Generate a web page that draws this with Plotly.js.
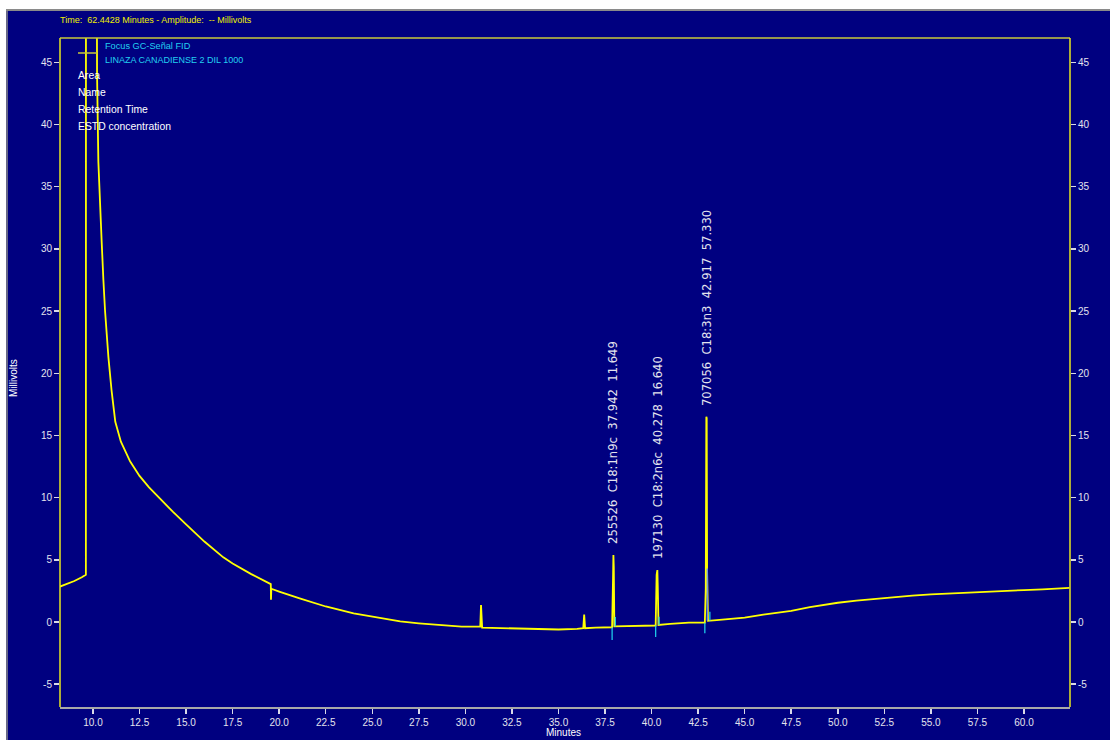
<!DOCTYPE html>
<html>
<head>
<meta charset="utf-8">
<script src="https://cdn.plot.ly/plotly-3.0.1.min.js"></script>
<style>
html,body{margin:0;padding:0;background:#000080;}
#chart{width:1110px;height:740px;}
</style>
</head>
<body>
<div id="chart"></div>
<script>
// ---- Data ----
const timeMin = [8.23, 8.6, 9.0, 9.4, 9.62, 9.63, 9.64, 10.17, 10.19, 10.22, 10.29, 10.38, 10.47, 10.56, 10.65, 10.83, 11.0, 11.2, 11.5, 12.0, 12.5, 13.0, 13.66, 14.3, 15.0, 16.0, 17.0, 17.5, 18.5, 19.43, 19.55, 19.56, 19.58, 19.62, 19.69, 20.0, 21.1, 22.5, 24.0, 25.0, 26.5, 27.5, 28.7, 29.8, 30.8, 30.84, 30.9, 32.0, 33.0, 34.0, 35.0, 36.0, 36.33, 36.38, 36.43, 37.0, 37.88, 37.93, 37.95, 37.97, 38.0, 38.5, 39.3, 40.22, 40.27, 40.31, 40.33, 40.37, 41.0, 42.0, 42.86, 42.91, 42.94, 42.96, 42.98, 43.03, 43.5, 44.0, 45.0, 46.0, 47.5, 48.5, 50.0, 51.0, 52.5, 54.0, 55.0, 56.0, 57.5, 59.0, 60.0, 61.0, 62.0, 62.44];
const millivolts = [2.85, 3.05, 3.3, 3.6, 3.8, 120, 120, 120, 60, 44, 37, 33, 30.5, 27.5, 25, 21.3, 18.6, 16.1, 14.5, 12.9, 11.75, 10.85, 9.8, 8.85, 7.85, 6.45, 5.2, 4.7, 3.85, 3.2, 3.05, 1.8, 2.7, 2.65, 2.62, 2.45, 1.9, 1.25, 0.7, 0.45, 0.05, -0.1, -0.25, -0.37, -0.37, 1.37, -0.45, -0.5, -0.55, -0.6, -0.6, -0.55, -0.5, 0.6, -0.5, -0.45, -0.42, 3.5, 5.39, 4.4, -0.35, -0.33, -0.3, -0.28, 3.8, 4.18, 3.0, -0.24, -0.15, -0.05, -0.05, 2.7, 16.5, 16.4, 4.2, 0.1, 0.15, 0.2, 0.35, 0.6, 0.9, 1.2, 1.55, 1.72, 1.95, 2.12, 2.22, 2.3, 2.42, 2.52, 2.57, 2.63, 2.7, 2.75];

// integration baseline markers (cyan)
const markX = [37.88, 37.88, null, 38.05, 38.05, null, 40.22, 40.22, null, 40.4, 40.4, null, 42.86, 42.86, null, 43.13, 43.13];
const markY = [-1.45, -0.42, null, -0.35, 0.4, null, -1.2, -0.28, null, -0.24, 0.43, null, -0.9, -0.05, null, 0.1, 0.83];
const innerX = [42.99, 42.99];
const innerY = [0.1, 4.3];

// identified peaks
const peakTimes = [37.95, 40.31, 42.94];
const peakHeights = [5.39, 4.18, 16.5];
const peakAreas = ["255526", "197130", "707056"];
const peakNames = ["C18:1n9c", "C18:2n6c", "C18:3n3"];
const peakRT = ["37.942", "40.278", "42.917"];
const peakConc = ["11.649", "16.640", "57.330"];

const xRange = [8.23, 62.47];
const yRange = [-6.83, 46.95];
const yTicks = [-5, 0, 5, 10, 15, 20, 25, 30, 35, 40, 45];

// ---- helpers for pixel placement of decorations ----
const W = 1110, H = 740, L = 60, R = 40, T = 38, B = 33;
const pw = W - L - R, ph = H - T - B;
const px = v => (v - L) / pw;
const py = v => (H - B - v) / ph;

const NAVY = '#000080';
const TXT = '#E4E4EE';
const nb = '\u00A0\u00A0';
const FONT = 'Liberation Sans, Arial';

const traces = [
  {x: timeMin, y: millivolts, type: 'scatter', mode: 'lines',
   line: {color: '#FFFF00', width: 1.8}, hoverinfo: 'skip', showlegend: false},
  {x: markX, y: markY, type: 'scatter', mode: 'lines', connectgaps: false,
   line: {color: '#20D8F0', width: 1.2}, hoverinfo: 'skip', showlegend: false},
  {x: innerX, y: innerY, type: 'scatter', mode: 'lines',
   line: {color: '#5C8CFF', width: 1.2}, hoverinfo: 'skip', showlegend: false},
  {x: [xRange[0]], y: [null], yaxis: 'y2', type: 'scatter', mode: 'lines', showlegend: false, hoverinfo: 'skip'}
];

const annotations = [];
peakTimes.forEach((t, i) => {
  annotations.push({
    x: t, y: peakHeights[i], xref: 'x', yref: 'y',
    text: peakAreas[i] + nb + peakNames[i] + nb + peakRT[i] + nb + peakConc[i],
    showarrow: false, textangle: -90, yanchor: 'bottom', xanchor: 'center', yshift: 9,
    font: {family: 'DejaVu Sans', size: 11.6, color: TXT}
  });
});
// title line
annotations.push({x: px(58), y: py(20), xref: 'paper', yref: 'paper', xanchor: 'left', yanchor: 'middle',
  text: 'Time:' + nb + '62.4428 Minutes - Amplitude:' + nb + '-- Millivolts', showarrow: false,
  font: {family: FONT, size: 9, color: '#F0F000'}});
// legend texts
annotations.push({x: px(103), y: py(46), xref: 'paper', yref: 'paper', xanchor: 'left', yanchor: 'middle',
  text: 'Focus GC-Señal FID', showarrow: false, font: {family: FONT, size: 9.2, color: '#22D0F0'}});
annotations.push({x: px(103), y: py(60), xref: 'paper', yref: 'paper', xanchor: 'left', yanchor: 'middle',
  text: 'LINAZA CANADIENSE 2 DIL 1000', showarrow: false, font: {family: FONT, size: 9, color: '#22D0F0'}});
const infoLabels = ['Area', 'Name', 'Retention Time', 'ESTD concentration'];
infoLabels.forEach((s, i) => {
  annotations.push({x: px(76), y: py(75 + i * 17), xref: 'paper', yref: 'paper', xanchor: 'left', yanchor: 'middle',
    text: s, showarrow: false, font: {family: FONT, size: 10.4, color: '#FFFFFF'}});
});
// axis titles
annotations.push({x: px(13), y: py(378), xref: 'paper', yref: 'paper', xanchor: 'center', yanchor: 'middle',
  text: 'Millivolts', textangle: -90, showarrow: false, font: {family: FONT, size: 10, color: '#FFFFFF'}});
annotations.push({x: px(563), y: py(740), xref: 'paper', yref: 'paper', xanchor: 'center', yanchor: 'bottom',
  text: 'Minutes', showarrow: false, font: {family: FONT, size: 10, color: '#FFFFFF'}});

const shapes = [
  // white window frame strips
  {type: 'rect', xref: 'paper', yref: 'paper', x0: px(-2), x1: px(1112), y0: py(10), y1: py(-2), fillcolor: '#FFFFFF', line: {width: 0}, layer: 'above'},
  {type: 'line', xref: 'paper', yref: 'paper', x0: px(6), x1: px(1112), y0: py(10), y1: py(10), line: {color: '#8A8A8A', width: 2}, layer: 'above'},
  {type: 'rect', xref: 'paper', yref: 'paper', x0: px(-2), x1: px(6), y0: py(742), y1: py(-2), fillcolor: '#FFFFFF', line: {width: 0}, layer: 'above'},
  {type: 'line', xref: 'paper', yref: 'paper', x0: px(7), x1: px(7), y0: py(742), y1: py(10), line: {color: '#8A8A8A', width: 1.5}, layer: 'above'},
  // yellow plot frame (left, top, right)
  {type: 'line', xref: 'paper', yref: 'paper', x0: 0, x1: 0, y0: 0, y1: 1, line: {color: '#E8E820', width: 1.5}, layer: 'above'},
  {type: 'line', xref: 'paper', yref: 'paper', x0: 0, x1: 1, y0: 1, y1: 1, line: {color: '#C8C83A', width: 1.5}, layer: 'above'},
  {type: 'line', xref: 'paper', yref: 'paper', x0: 1, x1: 1, y0: 0, y1: 1, line: {color: '#E8E820', width: 1.5}, layer: 'above'},
  // legend line symbol
  {type: 'line', xref: 'paper', yref: 'paper', x0: px(78), x1: px(97), y0: py(53), y1: py(53), line: {color: '#C8C83A', width: 1.5}, layer: 'above'}
];

const tickFont = {family: FONT, size: 10, color: TXT};
const yAxisBase = {
  range: yRange, tickmode: 'array', tickvals: yTicks, ticktext: yTicks.map(String),
  showgrid: false, zeroline: false, ticks: 'outside', ticklen: 5, tickwidth: 1.5, tickcolor: '#D8D8E8',
  tickfont: tickFont, showline: false, fixedrange: true
};

const layout = {
  width: W, height: H,
  margin: {l: L, r: R, t: T, b: B, pad: 0},
  paper_bgcolor: NAVY, plot_bgcolor: NAVY,
  showlegend: false,
  xaxis: {
    range: xRange, tick0: 10, dtick: 2.5, tickformat: '.1f',
    showgrid: false, zeroline: false, ticks: 'outside', ticklen: 5, tickwidth: 1.5, tickcolor: '#D8D8E8',
    tickfont: tickFont, showline: true, linecolor: '#A8A8A8', linewidth: 2, fixedrange: true
  },
  yaxis: Object.assign({}, yAxisBase, {side: 'left'}),
  yaxis2: Object.assign({}, yAxisBase, {side: 'right', overlaying: 'y'}),
  annotations: annotations,
  shapes: shapes
};

Plotly.newPlot('chart', traces, layout, {staticPlot: true, displayModeBar: false});
</script>
</body>
</html>
